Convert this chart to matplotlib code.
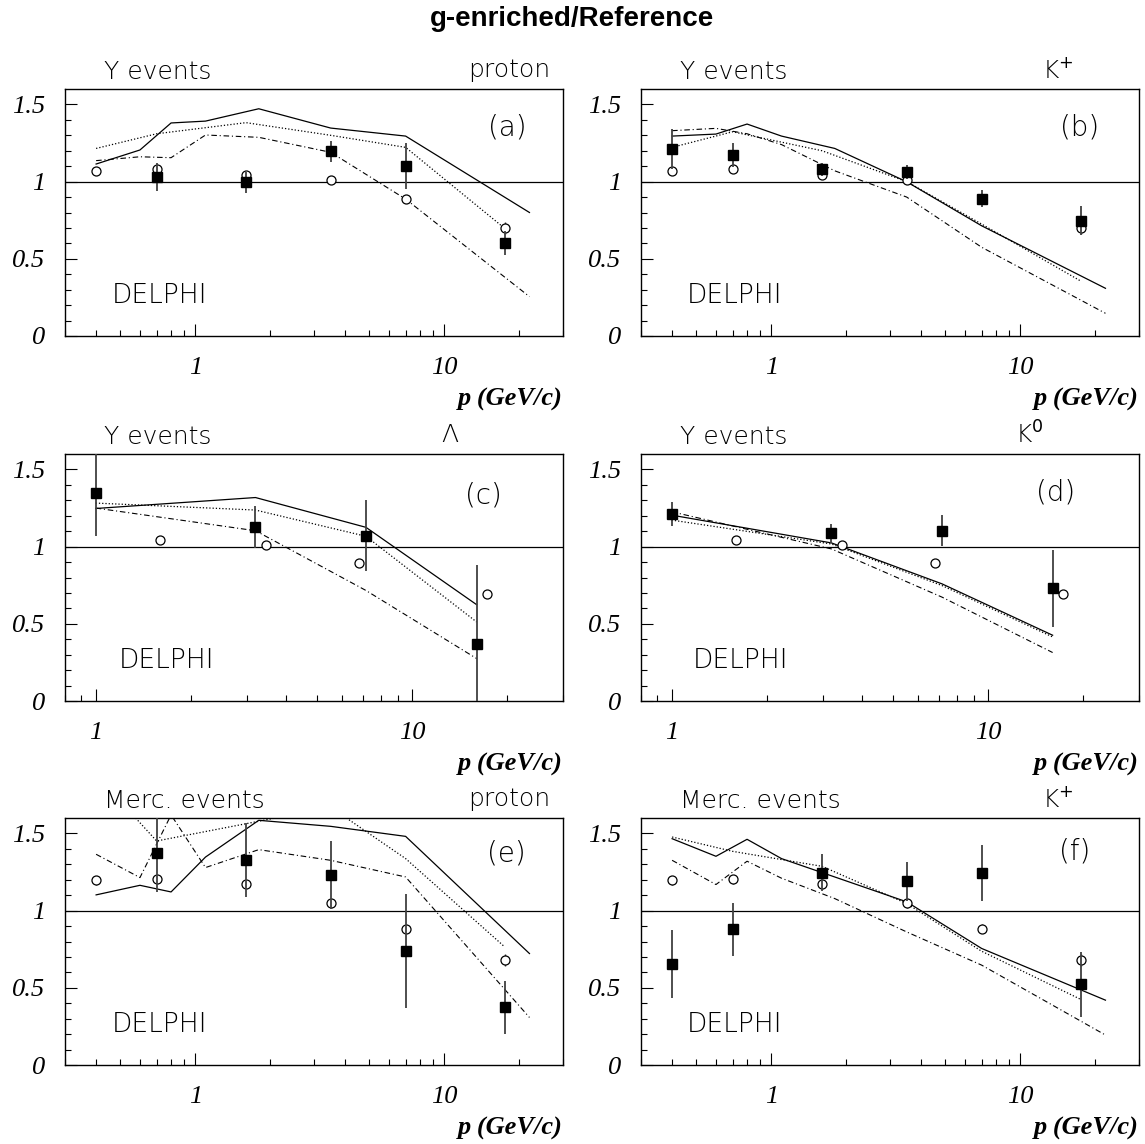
import numpy as np
import matplotlib.pyplot as plt
from matplotlib import ticker

# momentum grids (GeV/c)
p_fine = [0.4, 0.6, 0.8, 1.1, 1.8, 3.5, 7.0, 22.0]
p_data = [0.4, 0.7, 1.6, 3.5, 7.0, 17.5]
p_lam = [1.0, 3.2, 7.15, 16.0]
p_circ_lam = [1.6, 3.45, 6.8, 17.3]

# reference circles
circ_y = [1.066, 1.079, 1.045, 1.010, 0.887, 0.698]
circ_e = [0.01, 0.01, 0.01, 0.01, 0.01, 0.04]
circ_lam = [1.043, 1.011, 0.893, 0.695]
circ_merc = [1.197, 1.203, 1.171, 1.048, 0.884, 0.679]
circ_merc_e = [0.03, 0.03, 0.03, 0.03, 0.03, 0.04]

# (a) proton, Y events
a_solid = [1.114, 1.205, 1.380, 1.392, 1.472, 1.347, 1.295, 0.800]
a_dot = [1.215, 1.310, 1.382, 1.300, 1.222, 0.697]
a_dash = [1.136, 1.161, 1.155, 1.302, 1.287, 1.190, 0.887, 0.255]
a_sq_p = [0.7, 1.6, 3.5, 7.0, 17.5]
a_sq = [1.028, 0.995, 1.196, 1.103, 0.602]
a_sq_e = [0.09, 0.07, 0.07, 0.15, 0.08]

# (b) K+, Y events
b_solid = [1.295, 1.308, 1.373, 1.295, 1.215, 0.999, 0.714, 0.309]
b_dot = [1.222, 1.323, 1.200, 1.000, 0.725, 0.356]
b_dash = [1.330, 1.345, 1.310, 1.240, 1.070, 0.900, 0.575, 0.147]
b_sq = [1.211, 1.172, 1.079, 1.060, 0.889, 0.747]
b_sq_e = [0.13, 0.075, 0.04, 0.045, 0.055, 0.095]

# (c) Lambda, Y events
c_solid = [1.247, 1.318, 1.125, 0.624]
c_dot = [1.282, 1.237, 1.067, 0.512]
c_dash = [1.250, 1.103, 0.716, 0.275]
c_sq = [1.346, 1.129, 1.071, 0.372]
c_sq_e = [0.275, 0.135, 0.23, 0.51]

# (d) K0, Y events
d_solid = [1.204, 1.024, 0.759, 0.426]
d_dot = [1.172, 1.017, 0.748, 0.415]
d_dash = [1.226, 0.985, 0.673, 0.314]
d_sq = [1.211, 1.086, 1.103, 0.731]
d_sq_e = [0.08, 0.06, 0.10, 0.25]

# (e) proton, Merc. events
e_solid = [1.102, 1.164, 1.121, 1.347, 1.585, 1.546, 1.481, 0.722]
e_dot = [1.880, 1.451, 1.563, 1.670, 1.337, 0.765]
e_dash = [1.365, 1.214, 1.620, 1.279, 1.395, 1.326, 1.218, 0.308]
e_sq_p = [0.7, 1.6, 3.5, 7.0, 17.5]
e_sq = [1.373, 1.330, 1.229, 0.739, 0.373]
e_sq_e = [0.25, 0.24, 0.22, 0.37, 0.17]

# (f) K+, Merc. events
f_solid = [1.466, 1.352, 1.462, 1.337, 1.218, 1.057, 0.755, 0.420]
f_dot = [1.477, 1.384, 1.287, 1.046, 0.737, 0.425]
f_dash = [1.326, 1.169, 1.320, 1.210, 1.078, 0.862, 0.647, 0.194]
f_sq = [0.653, 0.878, 1.244, 1.190, 1.244, 0.524]
f_sq_e = [0.22, 0.17, 0.12, 0.125, 0.18, 0.21]

W, H = 1145, 1144
fig = plt.figure(figsize=(W / 100, H / 100), dpi=100)
fig.text(572 / W, 1 - 19 / H, 'g-enriched/Reference', ha='center', va='center',
         fontsize=20, fontweight='bold', family='Liberation Sans')

col_x = [65, 641]
row_bottom = [336, 701, 1065]
aw, ah = 498, 247

DOT = (0, (1, 1.6))
DASHDOT = (0, (5, 2.5, 1, 2.5))
txt_font = 'DejaVu Sans'
num_font = 'Liberation Serif'


def panel(ax, xlim, events, particle, part_x, letter, letter_xy, delphi_x,
          lines, circ, sq):
    ax.set_xscale('log')
    ax.set_xlim(*xlim)
    ax.set_ylim(0, 1.6)
    ax.axhline(1, color='black', lw=0.9)
    (px_s, ys), (px_d, yd), (px_dd, ydd) = lines
    ax.plot(px_s, ys, color='black', lw=0.9)
    ax.plot(px_d, yd, color='black', lw=0.9, linestyle=DOT)
    ax.plot(px_dd, ydd, color='black', lw=0.8, linestyle=DASHDOT)
    cx, cy, ce = circ
    ax.errorbar(cx, cy, yerr=ce, fmt='o', ms=6.5, mfc='white', mec='black',
                mew=0.9, ecolor='0.2', elinewidth=1.0, capsize=0, zorder=3)
    sx, sy, se = sq
    ax.errorbar(sx, sy, yerr=se, fmt='s', ms=6.5, mfc='black', mec='black',
                ecolor='0.25', elinewidth=1.3, capsize=0, zorder=4)

    ax.xaxis.set_major_locator(ticker.FixedLocator([1, 10]))
    ax.xaxis.set_major_formatter(ticker.FixedFormatter(['1', '10']))
    ax.xaxis.set_minor_locator(ticker.LogLocator(base=10, subs=range(2, 10)))
    ax.xaxis.set_minor_formatter(ticker.NullFormatter())
    ax.yaxis.set_major_locator(ticker.FixedLocator([0, 0.5, 1, 1.5]))
    ax.yaxis.set_major_formatter(ticker.FixedFormatter(['0', '0.5', '1', '1.5']))
    ax.yaxis.set_minor_locator(ticker.FixedLocator(np.arange(1, 16) / 10))
    ax.tick_params(which='both', direction='in', top=False, right=False, width=0.8)
    ax.tick_params(which='major', length=8.5)
    ax.tick_params(which='minor', length=4.5)
    ax.tick_params(axis='y', pad=14)
    ax.tick_params(axis='x', pad=15)
    for lab in ax.get_xticklabels() + ax.get_yticklabels():
        lab.set_family(num_font)
        lab.set_style('italic')
        lab.set_fontsize(19)
    for sp in ax.spines.values():
        sp.set_linewidth(1.0)

    ax.text(1.0, -0.255, 'p (GeV/c)', transform=ax.transAxes, ha='right',
            va='center', fontsize=19, family=num_font, style='italic',
            fontweight='bold')
    ax.text(0.078, 1.07, events, transform=ax.transAxes, ha='left',
            va='center', fontsize=18, family=txt_font, fontweight='light')
    ax.text(part_x, 1.075, particle, transform=ax.transAxes, ha='left',
            va='center', fontsize=18, family=txt_font, fontweight='light')
    ax.text(letter_xy[0], letter_xy[1], letter, transform=ax.transAxes,
            ha='center', va='center', fontsize=20, family=txt_font,
            fontweight='light')
    ax.text(delphi_x, 0.165, 'DELPHI', transform=ax.transAxes, ha='left',
            va='center', fontsize=19, family=txt_font, fontweight='light')


def make_ax(col, row):
    left = col_x[col] / W
    bottom = 1 - row_bottom[row] / H
    return fig.add_axes([left, bottom, aw / W, ah / H])


ax = make_ax(0, 0)
panel(ax, (0.3, 30), 'Y events', 'proton', 0.81, '(a)', (0.888, 0.846), 0.094,
      [(p_fine, a_solid), (p_data, a_dot), (p_fine, a_dash)],
      (p_data, circ_y, circ_e), (a_sq_p, a_sq, a_sq_e))

ax = make_ax(1, 0)
panel(ax, (0.3, 30), 'Y events', 'K$^{+}$', 0.805, '(b)', (0.88, 0.846), 0.092,
      [(p_fine, b_solid), (p_data, b_dot), (p_fine, b_dash)],
      (p_data, circ_y, circ_e), (p_data, b_sq, b_sq_e))

ax = make_ax(0, 1)
panel(ax, (0.8, 30), 'Y events', 'Λ', 0.755, '(c)', (0.84, 0.832), 0.108,
      [(p_lam, c_solid), (p_lam, c_dot), (p_lam, c_dash)],
      (p_circ_lam, circ_lam, [0.01] * 4), (p_lam, c_sq, c_sq_e))

ax = make_ax(1, 1)
panel(ax, (0.8, 30), 'Y events', 'K$^{0}$', 0.751, '(d)', (0.833, 0.845), 0.104,
      [(p_lam, d_solid), (p_lam, d_dot), (p_lam, d_dash)],
      (p_circ_lam, circ_lam, [0.01] * 4), (p_lam, d_sq, d_sq_e))

ax = make_ax(0, 2)
panel(ax, (0.3, 30), 'Merc. events', 'proton', 0.81, '(e)', (0.887, 0.857), 0.094,
      [(p_fine, e_solid), (p_data, e_dot), (p_fine, e_dash)],
      (p_data, circ_merc, circ_merc_e), (e_sq_p, e_sq, e_sq_e))

ax = make_ax(1, 2)
panel(ax, (0.3, 30), 'Merc. events', 'K$^{+}$', 0.805, '(f)', (0.87, 0.863), 0.092,
      [(p_fine, f_solid), (p_data, f_dot), (p_fine, f_dash)],
      (p_data, circ_merc, circ_merc_e), (p_data, f_sq, f_sq_e))

fig.savefig('out.png', dpi=100)
